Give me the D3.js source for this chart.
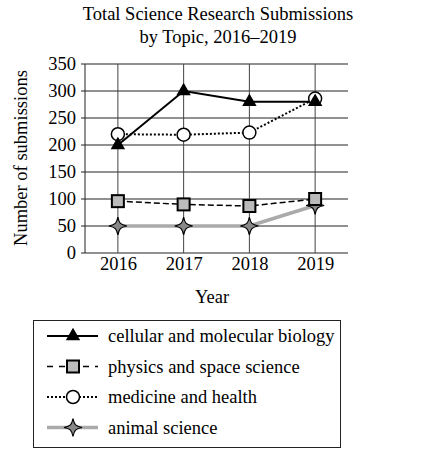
<!DOCTYPE html>
<html><head><meta charset="utf-8">
<script src="https://cdn.jsdelivr.net/npm/d3@7"></script>
<style>body{margin:0;background:#fff} svg text{font-family:"Liberation Serif","Times New Roman","DejaVu Serif",serif !important;fill:#000}</style>
</head><body>
<svg id="c" width="442" height="458"></svg>
<script>
const years = ["2016","2017","2018","2019"];
const cellular = [200, 300, 280, 280];
const physics = [96, 90, 87, 100];
const medicine = [220, 219, 223, 286];
const animal = [50, 50, 50, 88];
const yTicks = [0,50,100,150,200,250,300,350];
const titleLines = ["Total Science Research Submissions","by Topic, 2016\u20132019"];

const series = [
  {name:"cellular and molecular biology", values:cellular, stroke:"#000", width:2, dash:null, marker:"tri"},
  {name:"physics and space science", values:physics, stroke:"#000", width:1.5, dash:"6,3", marker:"sq"},
  {name:"medicine and health", values:medicine, stroke:"#000", width:2, dash:"2,2", marker:"circ"},
  {name:"animal science", values:animal, stroke:"#aaa", width:3.5, dash:null, marker:"star"}
];

const svg = d3.select("#c");
const L=85, R=348, T=64, B=253;
const FS = 18.5;
const x = d3.scalePoint().domain(years).range([L,R]).padding(0.5);
const y = d3.scaleLinear().domain([0,350]).range([B,T]);

svg.selectAll(".title").data(titleLines).join("text")
  .attr("x",218).attr("y",(d,i)=>20+i*23).attr("text-anchor","middle")
  .attr("font-size",FS).text(d=>d);

// grid
svg.append("g").selectAll("line").data(yTicks).join("line")
  .attr("x1",L-4).attr("x2",R).attr("y1",d=>y(d)).attr("y2",d=>y(d))
  .attr("stroke","#222").attr("stroke-width",1);
svg.append("g").selectAll("line").data(years).join("line")
  .attr("x1",d=>x(d)).attr("x2",d=>x(d)).attr("y1",T).attr("y2",B)
  .attr("stroke","#444").attr("stroke-width",1);
svg.append("line").attr("x1",L).attr("x2",L).attr("y1",T).attr("y2",B).attr("stroke","#222");

const ya = svg.append("g").attr("transform",`translate(${L},0)`)
  .call(d3.axisLeft(y).tickValues(yTicks).tickSize(0).tickPadding(9));
ya.select(".domain").remove();
ya.attr("font-family",null);
ya.selectAll("text").attr("font-size",FS).attr("fill","#000");

const xa = svg.append("g").attr("transform",`translate(0,${B})`)
  .call(d3.axisBottom(x).tickSize(0).tickPadding(4));
xa.select(".domain").remove();
xa.attr("font-family",null);
xa.selectAll("text").attr("font-size",FS).attr("fill","#000");

svg.append("text").attr("x",212).attr("y",303).attr("text-anchor","middle").attr("font-size",FS).text("Year");
svg.append("text").attr("transform","translate(27,158) rotate(-90)").attr("text-anchor","middle").attr("font-size",FS).text("Number of submissions");

const starPath = "M0,-9 C1.3,-2.5 2.5,-1.3 9,0 C2.5,1.3 1.3,2.5 0,9 C-1.3,2.5 -2.5,1.3 -9,0 C-2.5,-1.3 -1.3,-2.5 0,-9Z";
function drawMarker(g, type){
  if(type==="tri") g.append("path").attr("d",d3.symbol(d3.symbolTriangle,90)()).attr("fill","#000");
  else if(type==="sq") g.append("rect").attr("x",-6).attr("y",-6).attr("width",12).attr("height",12).attr("fill","#bbb").attr("stroke","#000").attr("stroke-width",2);
  else if(type==="circ") g.append("circle").attr("r",6.5).attr("fill","#fff").attr("stroke","#000").attr("stroke-width",1.5);
  else g.append("path").attr("d",starPath).attr("fill","#888").attr("stroke","#000").attr("stroke-width",1.2);
}

const line = d3.line().x((d,i)=>x(years[i])).y(d=>y(d));
const order = [3,1,2,0];
order.forEach(k=>{
  const s = series[k];
  svg.append("path").attr("d",line(s.values)).attr("fill","none")
    .attr("stroke",s.stroke).attr("stroke-width",s.width).attr("stroke-dasharray",s.dash);
});
order.forEach(k=>{
  const s = series[k];
  s.values.forEach((v,i)=>{
    const g = svg.append("g").attr("transform",`translate(${x(years[i])},${y(v)})`);
    drawMarker(g,s.marker);
  });
});

// legend
svg.append("rect").attr("x",33.5).attr("y",320.5).attr("width",307).attr("height",127)
  .attr("fill","none").attr("stroke","#222").attr("stroke-width",1);
series.forEach((s,i)=>{
  const yy = 336 + i*30.5;
  svg.append("line").attr("x1",47).attr("x2",98).attr("y1",yy).attr("y2",yy)
    .attr("stroke",s.stroke).attr("stroke-width",s.width)
    .attr("stroke-dasharray", s.marker==="sq" ? "6,6" : s.dash);
  const g = svg.append("g").attr("transform",`translate(73,${yy})`);
  drawMarker(g,s.marker);
  svg.append("text").attr("x",108).attr("y",yy+6).attr("font-size",FS).text(s.name);
});
</script>
</body></html>
